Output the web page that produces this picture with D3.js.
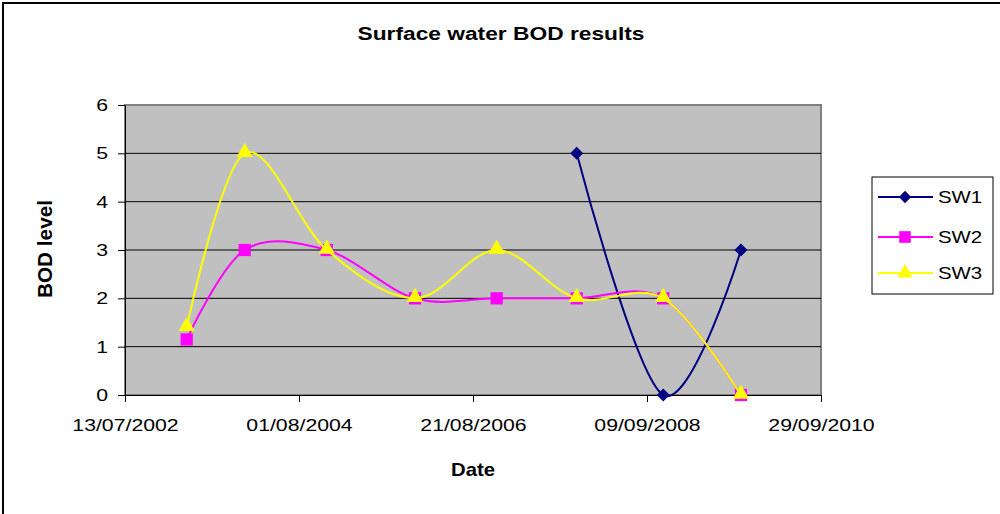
<!DOCTYPE html>
<html>
<head>
<meta charset="utf-8">
<script src="https://cdn.jsdelivr.net/npm/d3@7"></script>
<style>
  body { margin: 0; background: #fff; }
  text { font-family: "Liberation Sans", Arial, sans-serif; }
</style>
</head>
<body>
<div id="chart"></div>
<script>
document.addEventListener("DOMContentLoaded", () => {
    const width = 1000, height = 514;
    const left = 125, right = 821, top = 105, bottom = 395;

    // data
    const dates = ["05/04/2003", "11/12/2003", "29/11/2004", "14/12/2005", "01/12/2006", "11/11/2007", "18/11/2008", "19/10/2009"];
    const sw1 = [null, null, null, null, null, 5, 0, 3];
    const sw2 = [1.15, 3, 3, 2, 2, 2, 2, 0];
    const sw3 = [1.4, 5, 3, 2, 3, 2, 2, 0];
    const seriesNames = ["SW1", "SW2", "SW3"];
    const seriesColors = ["#000080", "#FF00FF", "#FFFF00"];
    const xTickLabels = ["13/07/2002", "01/08/2004", "21/08/2006", "09/09/2008", "29/09/2010"];
    const yTicks = [0, 1, 2, 3, 4, 5, 6];

    const parse = d3.timeParse("%d/%m/%Y");
    const fmt = d3.timeFormat("%d/%m/%Y");

    const svg = d3.select("#chart")
        .append("svg")
        .attr("width", width)
        .attr("height", height);

    // the picture's text looks stretched sideways, so fit each label to a width
    const stretch = (sel, factor) => sel.each(function () {
        const len = this.getComputedTextLength();
        d3.select(this).attr("textLength", len * factor).attr("lengthAdjust", "spacingAndGlyphs");
    });

    // outer frame (only left and top edges show)
    svg.append("rect")
        .attr("x", 3).attr("y", 3)
        .attr("width", width + 10).attr("height", height + 10)
        .attr("fill", "none").attr("stroke", "#000").attr("stroke-width", 2);

    const x = d3.scaleTime()
        .domain([parse(xTickLabels[0]), parse(xTickLabels[xTickLabels.length - 1])])
        .range([left, right]);
    const y = d3.scaleLinear().domain([0, 6]).range([bottom, top]);

    // plot area
    svg.append("rect")
        .attr("x", left).attr("y", top)
        .attr("width", right - left).attr("height", bottom - top)
        .attr("fill", "#C0C0C0").attr("stroke", "#808080").attr("stroke-width", 2);

    // gridlines
    svg.append("g")
        .selectAll("line")
        .data(yTicks.slice(1, -1))
        .join("line")
        .attr("x1", left).attr("x2", right)
        .attr("y1", d => y(d)).attr("y2", d => y(d))
        .attr("stroke", "#000").attr("stroke-width", 1);

    // axes
    const xAxis = svg.append("g")
        .attr("transform", `translate(0,${bottom})`)
        .call(d3.axisBottom(x)
            .tickValues(xTickLabels.map(parse))
            .tickFormat(fmt)
            .tickSize(7)
            .tickSizeOuter(0)
            .tickPadding(22));
    xAxis.select(".domain").attr("stroke", "#000");
    xAxis.selectAll(".tick line").attr("stroke", "#000");
    xAxis.selectAll("text")
        .attr("font-size", 17).attr("fill", "#000")
        .attr("dy", "0.4em")
        .call(stretch, 1.25);

    const yAxis = svg.append("g")
        .attr("transform", `translate(${left},0)`)
        .call(d3.axisLeft(y)
            .tickValues(yTicks)
            .tickFormat(d3.format("d"))
            .tickSize(7)
            .tickSizeOuter(0)
            .tickPadding(10));
    yAxis.select(".domain").attr("stroke", "#000");
    yAxis.selectAll(".tick line").attr("stroke", "#000");
    yAxis.selectAll("text")
        .attr("font-size", 17).attr("fill", "#000")
        .call(stretch, 1.25);

    // titles
    svg.append("text")
        .attr("x", 501).attr("y", 40)
        .attr("text-anchor", "middle")
        .attr("font-size", 18).attr("font-weight", "bold")
        .attr("textLength", 287).attr("lengthAdjust", "spacingAndGlyphs")
        .text("Surface water BOD results");

    svg.append("text")
        .attr("x", (left + right) / 2).attr("y", 476)
        .attr("text-anchor", "middle")
        .attr("font-size", 19).attr("font-weight", "bold")
        .attr("textLength", 44).attr("lengthAdjust", "spacingAndGlyphs")
        .text("Date");

    svg.append("text")
        .attr("transform", "translate(52,249) rotate(-90)")
        .attr("text-anchor", "middle")
        .attr("font-size", 20).attr("font-weight", "bold")
        .attr("textLength", 98).attr("lengthAdjust", "spacingAndGlyphs")
        .text("BOD level");

    // series
    const allSeries = [sw1, sw2, sw3];
    const symbols = [d3.symbolSquare, d3.symbolSquare, d3.symbolTriangle];
    const symbolSizes = [85, 150, 115];
    const symbolRotate = [45, 0, 0];

    const line = d3.line()
        .defined(d => d.v !== null)
        .x(d => x(d.date))
        .y(d => y(d.v))
        .curve(d3.curveCardinal.tension(0));

    allSeries.forEach((values, i) => {
        const pts = values.map((v, j) => ({ date: parse(dates[j]), v }));
        const defined = pts.filter(d => d.v !== null);

        svg.append("path")
            .datum(defined)
            .attr("d", line)
            .attr("fill", "none")
            .attr("stroke", seriesColors[i])
            .attr("stroke-width", 2);

        svg.append("g")
            .selectAll("path")
            .data(defined)
            .join("path")
            .attr("transform", d => `translate(${x(d.date)},${y(d.v) + (i === 2 ? -1 : 0)}) rotate(${symbolRotate[i]})`)
            .attr("d", d3.symbol().type(symbols[i]).size(symbolSizes[i]))
            .attr("fill", seriesColors[i]);
    });

    // legend
    const legend = svg.append("g");
    legend.append("rect")
        .attr("x", 872).attr("y", 177)
        .attr("width", 121).attr("height", 117)
        .attr("fill", "#fff").attr("stroke", "#000").attr("stroke-width", 1);

    const legendY = [197, 237, 273];
    seriesNames.forEach((name, i) => {
        const g = legend.append("g").attr("transform", `translate(0,${legendY[i]})`);
        g.append("line")
            .attr("x1", 878).attr("x2", 933)
            .attr("stroke", seriesColors[i]).attr("stroke-width", 2);
        g.append("path")
            .attr("transform", `translate(905,0) rotate(${symbolRotate[i]})`)
            .attr("d", d3.symbol().type(symbols[i]).size(symbolSizes[i] * 0.9))
            .attr("fill", seriesColors[i]);
        g.append("text")
            .attr("x", 938).attr("y", 6)
            .attr("font-size", 17)
            .text(name)
            .call(stretch, 1.2);
    });
});
</script>
</body>
</html>
